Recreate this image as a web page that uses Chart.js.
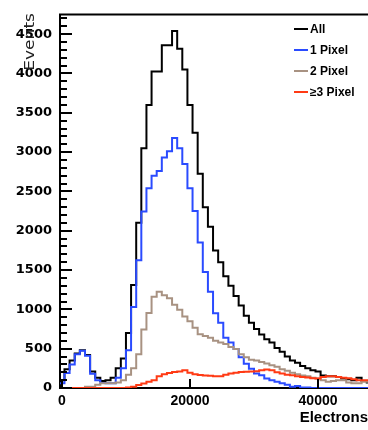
<!DOCTYPE html>
<html>
<head>
<meta charset="utf-8">
<script src="https://cdn.jsdelivr.net/npm/chart.js@4.4.1/dist/chart.umd.min.js"></script>
<style>
  html, body { margin: 0; padding: 0; background: #fff; }
</style>
</head>
<body>
<canvas id="chart" width="368" height="430"></canvas>
<script>
// histogram binning (electrons)
const binStart = -400;
const binWidth = 800;

const seriesLabels = ['All', '1 Pixel', '2 Pixel', '\u22653 Pixel'];

const allPix = [100, 240, 350, 440, 480, 420, 210, 130, 90, 100, 130, 250, 375, 700, 1310, 2100,
  3050, 3600, 4025, 4025, 4360, 4360, 4540, 4315, 4050, 3600, 3245, 2725, 2300, 2050, 1750, 1600,
  1420, 1300, 1170, 1050, 920, 830, 750, 680, 620, 580, 510, 460, 400, 350, 320, 280, 250, 225,
  210, 160, 150, 150, 140, 120, 110, 100, 130, 90, 70];
const onePix = [60, 190, 300, 430, 475, 410, 180, 100, 65, 60, 60, 130, 250, 480, 1030, 1625,
  2245, 2540, 2700, 2760, 2930, 3010, 3180, 3050, 2850, 2540, 2250, 1850, 1475, 1225, 950, 830,
  640, 580, 495, 390, 308, 246, 183, 162, 121, 100, 80, 60, 40, 17, 25, 5, 5, 0,
  0, 0, 0, 0, 0, 0, 0, 0, 0, 0, 0];
const twoPix = [0, 0, 0, 0, 0, 15, 15, 40, 60, 60, 60, 70, 100, 170, 250, 430,
  745, 955, 1160, 1225, 1180, 1140, 1060, 995, 910, 850, 765, 685, 660, 640, 600, 580,
  560, 520, 495, 430, 390, 360, 350, 330, 310, 290, 270, 240, 220, 195, 175, 160, 150, 130,
  120, 100, 80, 90, 100, 100, 70, 60, 60, 80, 80];
const threePix = [0, 0, 0, 0, 0, 0, 0, 0, 0, 0, 0, 0, 0, 5, 17, 37,
  58, 80, 100, 150, 175, 191, 204, 210, 225, 195, 175, 165, 160, 155, 150, 150,
  170, 185, 195, 204, 208, 210, 212, 225, 235, 225, 200, 185, 170, 162, 150, 140, 135, 125,
  120, 140, 150, 150, 140, 130, 125, 110, 100, 100, 100];

const xTicks = [0, 20000, 40000];
const yTicks = [0, 500, 1000, 1500, 2000, 2500, 3000, 3500, 4000, 4500];

const colors = ['#000000', '#2a4bff', '#a89282', '#ff3a14'];

// bin contents -> step outline points (left edges)
function toSteps(values) {
  const pts = [{ x: binStart, y: 0 }];
  values.forEach((v, i) => pts.push({ x: binStart + i * binWidth, y: v }));
  pts.push({ x: binStart + values.length * binWidth, y: values[values.length - 1] });
  return pts;
}

const seriesData = [allPix, onePix, twoPix, threePix];

const rootFrame = {
  id: 'rootFrame',
  afterDraw(chart) {
    const { ctx, chartArea, scales } = chart;
    const xs = scales.x, ys = scales.y;
    ctx.save();
    ctx.strokeStyle = '#000';
    ctx.lineWidth = 2;
    // top frame
    ctx.beginPath();
    ctx.moveTo(chartArea.left - 1, chartArea.top);
    ctx.lineTo(chartArea.right, chartArea.top);
    ctx.stroke();

    // y ticks, drawn inside
    for (let v = 0; v <= ys.max; v += 100) {
      const y = Math.round(ys.getPixelForValue(v));
      const len = v % 500 === 0 ? 12 : 7;
      ctx.beginPath();
      ctx.moveTo(chartArea.left, y);
      ctx.lineTo(chartArea.left + len, y);
      ctx.stroke();
    }
    // x ticks
    xTicks.forEach(v => {
      const x = Math.round(xs.getPixelForValue(v));
      ctx.beginPath();
      ctx.moveTo(x, chartArea.bottom);
      ctx.lineTo(x, chartArea.bottom - 9);
      ctx.stroke();
    });

    // axis titles
    ctx.fillStyle = '#000';
    ctx.font = 'bold 15px "Liberation Sans", Arial, sans-serif';
    ctx.textAlign = 'right';
    ctx.textBaseline = 'middle';
    ctx.fillText('Electrons', 368, 418);

    ctx.save();
    ctx.translate(30, 13);
    ctx.rotate(-Math.PI / 2);
    ctx.scale(1.22, 1);
    ctx.font = '14px "DejaVu Sans", sans-serif';
    ctx.fillStyle = '#222';
    ctx.fillText('Events', 0, 0);
    ctx.restore();

    // legend
    ctx.font = 'bold 12px "Liberation Sans", Arial, sans-serif';
    ctx.textAlign = 'left';
    chart.data.datasets.forEach((ds, i) => {
      const y = 29 + i * 21;
      ctx.strokeStyle = ds.borderColor;
      ctx.lineWidth = 2;
      ctx.beginPath();
      ctx.moveTo(294, y);
      ctx.lineTo(308, y);
      ctx.stroke();
      ctx.fillStyle = '#000';
      ctx.fillText(ds.label, 310, y + 1);
    });
    ctx.restore();
  }
};

new Chart(document.getElementById('chart'), {
  type: 'line',
  data: {
    datasets: seriesData.map((vals, i) => ({
      label: seriesLabels[i],
      data: toSteps(vals),
      borderColor: colors[i],
      borderWidth: 2,
      stepped: true,
      pointRadius: 0,
      fill: false,
      order: 4 - i
    }))
  },
  options: {
    responsive: false,
    animation: false,
    devicePixelRatio: 1,
    layout: { padding: { top: 8, right: 0, left: 0, bottom: 0 } },
    plugins: {
      legend: { display: false },
      tooltip: { enabled: false }
    },
    scales: {
      x: {
        type: 'linear',
        min: -300,
        max: 47800,
        afterBuildTicks: s => { s.ticks = xTicks.map(v => ({ value: v })); },
        afterFit: s => { s.height = 42; },
        grid: { display: false, drawTicks: false },
        border: { display: true, color: '#000', width: 2 },
        ticks: {
          color: '#000',
          padding: 6,
          maxRotation: 0,
          autoSkip: false,
          font: { family: '"Liberation Sans", Arial, sans-serif', size: 14, weight: 'bold', lineHeight: 1 },
          callback: v => String(v)
        }
      },
      y: {
        min: 0,
        max: 4750,
        afterBuildTicks: s => { s.ticks = yTicks.map(v => ({ value: v })); },
        afterFit: s => { s.width = 60; },
        grid: { display: false, drawTicks: false },
        border: { display: true, color: '#000', width: 2 },
        ticks: {
          color: '#000',
          padding: 8,
          autoSkip: false,
          font: { family: '"DejaVu Sans", sans-serif', size: 13, weight: 'bold', lineHeight: 1 },
          callback: v => String(v)
        }
      }
    }
  },
  plugins: [rootFrame]
});
</script>
</body>
</html>
